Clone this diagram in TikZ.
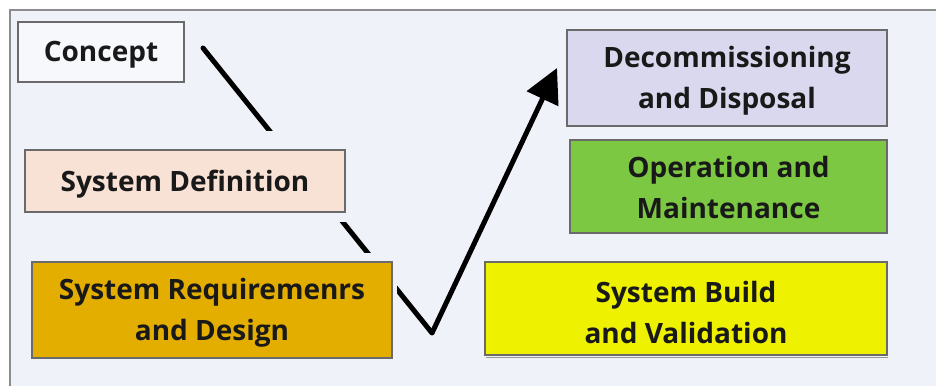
\documentclass[tikz,border=0pt]{standalone}
\usepackage{fontspec}
\setmainfont{Open Sans}
\usetikzlibrary{arrows.meta}
\definecolor{bg}{HTML}{EFF2F8}
\definecolor{frame}{HTML}{8C8C8C}
\definecolor{boxline}{HTML}{6A6A6A}
\definecolor{cConcept}{HTML}{F7F8FC}
\definecolor{cDef}{HTML}{F8E2D6}
\definecolor{cReq}{HTML}{E3AE00}
\definecolor{cDecom}{HTML}{D9D8EE}
\definecolor{cOper}{HTML}{7CC842}
\definecolor{cBuild}{HTML}{EEF200}
\tikzset{
  stagebox/.style={draw=boxline, line width=1.4pt, rectangle, inner sep=0pt},
  stagetext/.style={inner sep=0pt, align=center,
    font=\fontsize{28}{41}\selectfont\bfseries, text=black!90},
  vline/.style={line width=5pt, black},
  mask/.style={fill=bg, draw=none},
}
\begin{document}
\begin{tikzpicture}[x=1pt,y=-1pt]
\useasboundingbox (0,0) rectangle (936,386);
\fill[white] (0,0) rectangle (936,386);
\fill[bg] (10,10) rectangle (936,386);
\draw[frame, line width=2pt] (10,386) -- (10,10) -- (936,10);

% V path
\coordinate (s) at (203,48);
\coordinate (v) at (432,333);
\coordinate (t) at (557,68);
\draw[vline, line cap=round] (s) -- (v);
\draw[vline, -{Triangle[length=34pt,width=34pt]}] (v) -- (t);

% masks hiding the line near boxes
\fill[mask] (22,131) rectangle (349,222);
\fill[mask] (28,253) rectangle (396.5,362);

% boxes
\node[stagebox, fill=cConcept, minimum width=166pt, minimum height=60pt] (concept) at (101,52) {};
\node[stagebox, fill=cDef, minimum width=320pt, minimum height=62pt] (def) at (185,181) {};
\node[stagebox, fill=cReq, minimum width=360pt, minimum height=96pt] (req) at (212,310) {};
\node[stagebox, fill=cDecom, minimum width=320pt, minimum height=96pt] (decom) at (727,78) {};
\node[stagebox, fill=cOper, minimum width=317pt, minimum height=93pt] (oper) at (728.5,186.5) {};
\draw[boxline!70, line width=1.5pt] (486,357.5) -- (888,357.5);
\node[stagebox, fill=cBuild, minimum width=402pt, minimum height=93pt] (build) at (686,308.5) {};

% texts
\node[stagetext] (conceptT) at ([yshift=-3pt]concept.center) {Concept};
\node[stagetext] (defT) at ([yshift=-3.5pt]def.center) {System Definition};
\node[stagetext] (reqT) at ([yshift=-3pt]req.center) {System Requiremenrs\\and Design};
\node[stagetext] (decomT) at ([yshift=-3pt]decom.center) {Decommissioning\\and Disposal};
\node[stagetext] (operT) at ([yshift=-0.5pt]oper.center) {Operation and\\Maintenance};
\node[stagetext] (buildT) at ([yshift=-3.5pt]build.center) {System Build\\and Validation};
\end{tikzpicture}
\end{document}
